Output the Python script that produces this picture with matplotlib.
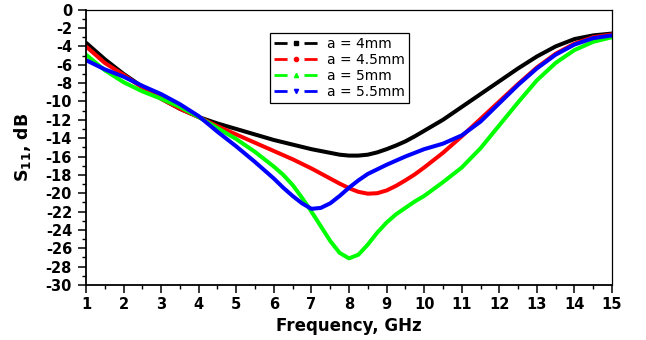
import matplotlib
matplotlib.use("Agg")
import matplotlib.pyplot as plt
from matplotlib.lines import Line2D
from matplotlib.ticker import MultipleLocator

freq = [1, 1.5, 2, 2.5, 3, 3.5, 4, 4.5, 5, 5.5, 6,
        6.25, 6.5, 6.75, 7, 7.25, 7.5, 7.75, 8, 8.25, 8.5, 8.75, 9, 9.25, 9.5, 9.75, 10,
        10.5, 11, 11.5, 12, 12.5, 13, 13.5, 14, 14.5, 15]

s11_a4 = [-3.6, -5.4, -7.0, -8.4, -9.7, -10.8, -11.7, -12.4, -13.0, -13.6, -14.2,
          -14.45, -14.7, -14.95, -15.2, -15.4, -15.6, -15.8, -15.9, -15.9, -15.8, -15.55, -15.2, -14.8, -14.35, -13.8, -13.2,
          -12.0, -10.6, -9.2, -7.8, -6.4, -5.1, -4.0, -3.2, -2.8, -2.6]
s11_a45 = [-4.0, -5.8, -7.1, -8.5, -9.7, -10.8, -11.7, -12.7, -13.6, -14.5, -15.4,
           -15.85, -16.3, -16.8, -17.3, -17.85, -18.4, -18.95, -19.45, -19.85, -20.05, -20.0, -19.7, -19.2, -18.6, -17.95, -17.2,
           -15.6, -13.8, -11.9, -10.0, -8.1, -6.3, -4.8, -3.7, -3.0, -2.7]
s11_a5 = [-4.9, -6.6, -7.9, -8.9, -9.7, -10.6, -11.7, -12.9, -14.1, -15.5, -17.1,
          -18.0, -19.1, -20.5, -22.0, -23.6, -25.2, -26.5, -27.1, -26.7, -25.6, -24.3, -23.2, -22.3, -21.6, -20.9, -20.3,
          -18.8, -17.2, -15.1, -12.6, -10.1, -7.7, -5.8, -4.4, -3.5, -3.0]
s11_a55 = [-5.5, -6.5, -7.3, -8.3, -9.2, -10.3, -11.6, -13.3, -14.9, -16.6, -18.4,
           -19.4, -20.3, -21.1, -21.7, -21.6, -21.1, -20.3, -19.4, -18.6, -17.9, -17.4, -16.9, -16.45, -16.0, -15.6, -15.2,
           -14.6, -13.7, -12.2, -10.2, -8.2, -6.4, -4.9, -3.8, -3.1, -2.8]

labels = ["a = 4mm", "a = 4.5mm", "a = 5mm", "a = 5.5mm"]
colors = ["#000000", "#ff0000", "#00ff00", "#0000ff"]
markers = ["s", "o", "^", "v"]
series = [s11_a4, s11_a45, s11_a5, s11_a55]

plt.rcParams['font.family'] = ['DejaVu Sans']

fig = plt.figure(figsize=(6.46, 3.40), dpi=100)
ax = fig.add_axes([0.1331, 0.1618, 0.8143, 0.8097])

for y, c in zip(series, colors):
    ax.plot(freq, y, color=c, lw=2.9, solid_capstyle='round', solid_joinstyle='round')

ax.set_xlim(1, 15)
ax.set_ylim(-30, 0)
ax.xaxis.set_major_locator(MultipleLocator(1))
ax.xaxis.set_minor_locator(MultipleLocator(0.5))
ax.yaxis.set_minor_locator(MultipleLocator(1))
ax.set_yticks(range(-30, 1, 2))
ax.set_yticklabels([str(v) for v in range(-30, 1, 2)])
ax.tick_params(which='major', direction='out', length=5.5, width=1.1,
               labelsize=10.5, pad=3)
ax.tick_params(axis='y', which='major', pad=4.5)
ax.tick_params(which='minor', direction='out', length=3, width=1.0)
ax.tick_params(top=False, right=False, which='both')
for lab in ax.get_xticklabels() + ax.get_yticklabels():
    lab.set_fontweight('bold')

for s in ['left', 'bottom']:
    ax.spines[s].set_linewidth(1.3)
for s in ['top', 'right']:
    ax.spines[s].set_linewidth(0.9)

ax.set_xlabel("Frequency, GHz", fontsize=12, fontweight='bold', labelpad=4)
ax.set_ylabel(r"S$_{\mathbf{11}}$, dB", fontsize=12.5, fontweight='bold', labelpad=9)

handles = []
for c, m in zip(colors, markers):
    dash = Line2D([], [], color=c, lw=2, linestyle=(0, (4.7, 6.1)))
    mk = Line2D([], [], color=c, ls='none', marker=m, ms=3)
    handles.append((dash, mk))

leg = ax.legend(handles, labels, loc='upper left', bbox_to_anchor=(0.35, 0.916),
                fontsize=10, frameon=True, fancybox=False, edgecolor='black',
                framealpha=1, handlelength=3.2, handletextpad=0.6,
                labelspacing=0.15, borderpad=0.3, borderaxespad=0, numpoints=1)
leg.get_frame().set_linewidth(0.9)

fig.savefig("out.png", dpi=100)
